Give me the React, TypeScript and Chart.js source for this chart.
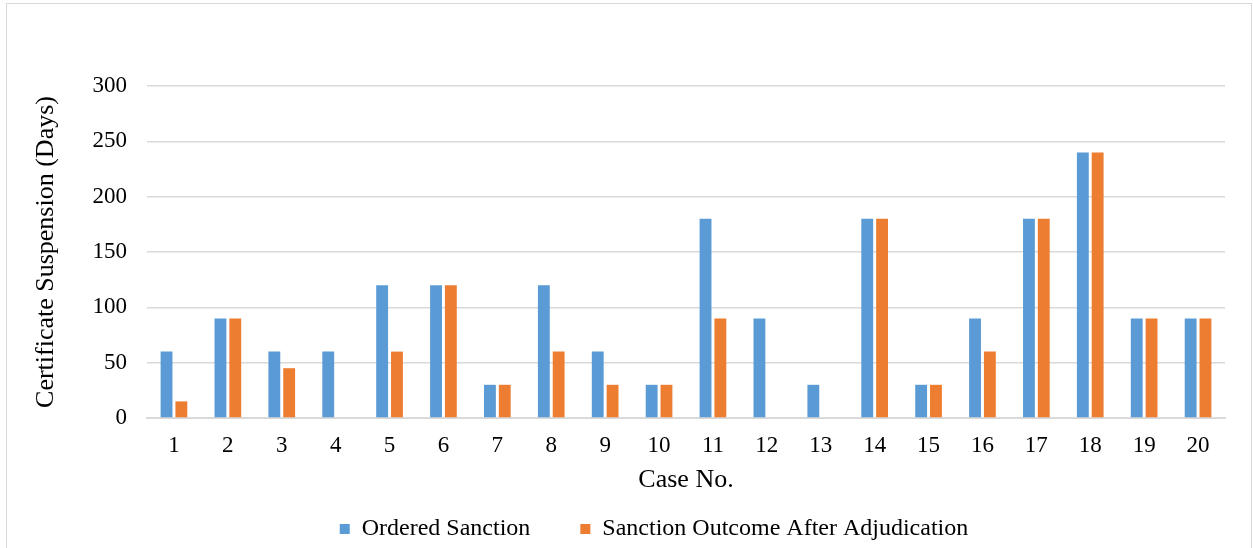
import React, { useEffect, useRef } from "react";
import { Chart, registerables } from "chart.js";

Chart.register(...registerables);

const categories = ["1","2","3","4","5","6","7","8","9","10","11","12","13","14","15","16","17","18","19","20"];
const orderedSanction = [60, 90, 60, 60, 120, 120, 30, 120, 60, 30, 180, 90, 30, 180, 30, 90, 180, 240, 90, 90];
const sanctionOutcome = [15, 90, 45, 0, 60, 120, 30, 60, 30, 30, 90, 0, 0, 180, 30, 60, 180, 240, 90, 90];

const FONT = "'Liberation Serif', 'Times New Roman', serif";

export default function App() {
  const ref = useRef<HTMLCanvasElement | null>(null);
  useEffect(() => {
    if (!ref.current) return;
    const chart = new Chart(ref.current, {
      type: "bar",
      data: {
        labels: categories,
        datasets: [
          { label: "Ordered Sanction", data: orderedSanction, backgroundColor: "#5B9BD5", categoryPercentage: 0.55, barPercentage: 0.8 },
          { label: "Sanction Outcome After Adjudication", data: sanctionOutcome, backgroundColor: "#ED7D31", categoryPercentage: 0.55, barPercentage: 0.8 },
        ],
      },
      options: {
        responsive: false,
        animation: false,
        layout: { padding: { top: 86, right: 28, left: 83, bottom: 0 } },
        plugins: {
          tooltip: { enabled: false },
          legend: {
            position: "bottom",
            maxHeight: 81,
            labels: {
              font: { family: FONT, size: 24 },
              color: "#000",
              boxWidth: 10,
              boxHeight: 10,
              padding: 50,
            },
          },
        },
        scales: {
          x: {
            afterFit: (s: any) => { s.height = 49; },
            grid: { display: false, drawTicks: false },
            border: { color: "#d9d9d9", width: 2 },
            ticks: { font: { family: FONT, size: 23 }, color: "#000", padding: 14 },
            title: { display: true, text: "Case No.", font: { family: FONT, size: 26 }, color: "#000", padding: { top: 0, bottom: -29 } },
          },
          y: {
            afterFit: (s: any) => { s.width = 64; },
            min: 0,
            max: 300,
            ticks: { stepSize: 50, font: { family: FONT, size: 23 }, color: "#000", padding: 20 },
            grid: { color: "#d9d9d9", lineWidth: 1.5, drawTicks: false },
            border: { display: false },
            title: { display: true, text: "Certificate Suspension (Days)", font: { family: FONT, size: 26 }, color: "#000", padding: { top: -52, bottom: 0 } },
          },
        },
      },
    });
    return () => chart.destroy();
  }, []);
  return (
    <div style={{ position: "absolute", left: 0, top: 0, width: 1253, height: 548, background: "#fff", overflow: "hidden" }}>
      <div style={{ position: "absolute", left: 6, top: 3, width: 1244, height: 560, border: "1.5px solid #d9d9d9" }} />
      <canvas ref={ref} width={1253} height={548} style={{ position: "absolute", left: 0, top: 0 }} />
    </div>
  );
}
